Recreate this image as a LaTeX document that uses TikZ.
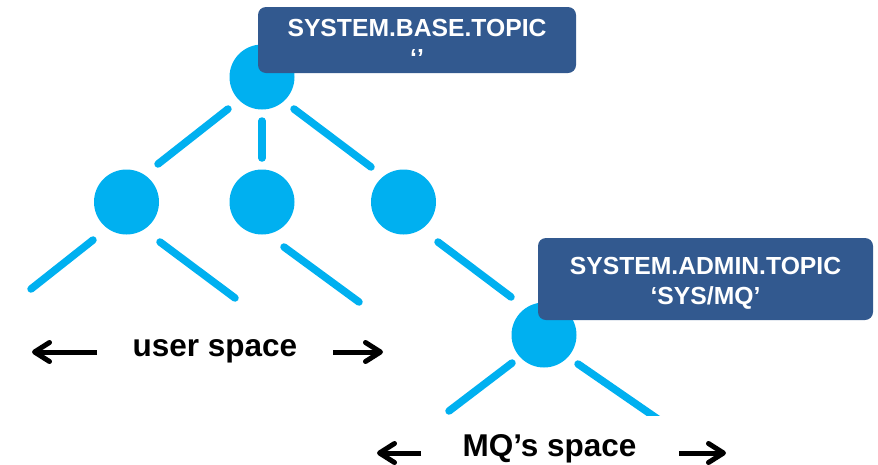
\documentclass[tikz,border=0pt]{standalone}
\usepackage{fontspec}
\setmainfont{Liberation Sans}
\usetikzlibrary{arrows.meta}
\definecolor{nodeblue}{RGB}{0,176,240}
\definecolor{boxblue}{RGB}{50,89,143}
\tikzset{
  dot/.style={circle,fill=nodeblue,draw=none,minimum size=65pt,inner sep=0pt},
  branch/.style={draw=nodeblue,line width=7.5pt,line cap=round},
  tag/.style={fill=boxblue,draw=none,rounded corners=8pt,text=white,align=center,
    font=\fontsize{24.7}{30}\selectfont\bfseries,inner sep=0pt},
  spacelabel/.style={font=\fontsize{31.5}{36}\selectfont\bfseries,anchor=base,inner sep=0pt},
  spacearrow/.style={draw=black,line width=5pt,-{Straight Barb[length=15pt,width=19pt,line cap=round,line join=round]}}
}
\begin{document}
\begin{tikzpicture}[x=1pt,y=-1pt]
\useasboundingbox (0,0) rectangle (878,464);
% circles
\node[dot] (c0) at (262,77) {};
\node[dot] (c1) at (126.5,202) {};
\node[dot] (c2) at (262,202) {};
\node[dot] (c3) at (403.5,202) {};
\node[dot] (c4) at (544,335) {};
% branch end points
\coordinate (a1) at (228,109);
\coordinate (a2) at (158,164);
\coordinate (b1) at (262,121);
\coordinate (b2) at (262,158);
\coordinate (d1) at (294,109);
\coordinate (d2) at (371,167);
\coordinate (e1) at (93,240);
\coordinate (e2) at (31,289);
\coordinate (f1) at (160,242);
\coordinate (f2) at (235,298);
\coordinate (g1) at (284,247);
\coordinate (g2) at (359,302);
\coordinate (h1) at (438,242);
\coordinate (h2) at (511,297);
\coordinate (k1) at (512,363);
\coordinate (k2) at (449,411);
\coordinate (m1) at (578,364);
\coordinate (m2) at (665,424);
\draw[branch] (a1) -- (a2);
\draw[branch] (b1) -- (b2);
\draw[branch] (d1) -- (d2);
\draw[branch] (e1) -- (e2);
\draw[branch] (f1) -- (f2);
\draw[branch] (g1) -- (g2);
\draw[branch] (h1) -- (h2);
\draw[branch] (k1) -- (k2);
\begin{scope}
\clip (0,0) rectangle (878,415);
\draw[branch] (m1) -- (m2);
\end{scope}
% tags
\node[tag,minimum width=318pt,minimum height=66pt] (t0) at (417,40) {};
\node[tag,anchor=base] (t0a) at (417,36) {SYSTEM.BASE.TOPIC};
\node[tag,anchor=base] (t0b) at (417,66) {‘’};
\node[tag,minimum width=335pt,minimum height=82pt] (t1) at (705.5,279) {};
\node[tag,anchor=base] (t1a) at (705.5,274) {SYSTEM.ADMIN.TOPIC};
\node[tag,anchor=base] (t1b) at (705.5,304) {‘SYS/MQ’};
% space labels
\node[spacelabel] (u) at (215,356) {user space};
\node[spacelabel] (q) at (549.5,456) {MQ’s space};
\coordinate (ul1) at (97,352);
\coordinate (ul2) at (32,352);
\coordinate (ur1) at (333,352);
\coordinate (ur2) at (383,352);
\coordinate (ql1) at (421,453);
\coordinate (ql2) at (377,453);
\coordinate (qr1) at (679,453);
\coordinate (qr2) at (726,453);
\draw[spacearrow] (ul1) -- (ul2);
\draw[spacearrow] (ur1) -- (ur2);
\draw[spacearrow] (ql1) -- (ql2);
\draw[spacearrow] (qr1) -- (qr2);
\end{tikzpicture}
\end{document}
